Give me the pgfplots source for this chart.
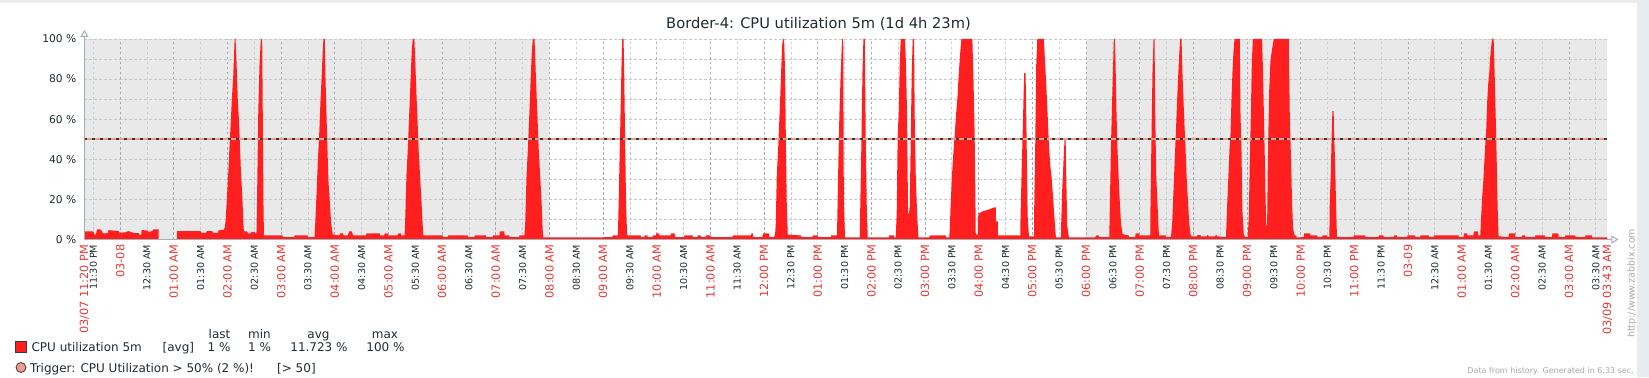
\documentclass[border=0pt]{standalone}
\usepackage{pgfplots}
\pgfplotsset{compat=1.18}
\usepackage{fontspec}
\setmainfont{DejaVu Sans}
\usetikzlibrary{arrows.meta}
\definecolor{zbxred}{HTML}{FF1F1F}
\definecolor{labred}{HTML}{E53935}
\definecolor{zbxtext}{HTML}{1F2C33}
\definecolor{bggray}{HTML}{E9E9E9}
\definecolor{pagegray}{HTML}{E9ECEF}
\definecolor{majgrid}{HTML}{9EABB2}
\definecolor{mingrid}{HTML}{C6CDD1}
\definecolor{hgrid}{HTML}{C3CACE}
\definecolor{axiscol}{HTML}{A3AFB7}
\definecolor{trigsalmon}{HTML}{EC9C8A}
\definecolor{trigdark}{HTML}{3A3A3A}
\definecolor{footgray}{HTML}{A8A8A8}
\newcommand{\R}[1]{{\fontsize{11.3bp}{12bp}\selectfont\color{labred}#1}}
\pgfplotstableread{
m v
0 4
10 4
11 2.5
13 2.5
14 5
18 5
19 4.5
21 3
26 3.2
27 4.7
31 4.5
38 4.2
40 3.2
43 3.5
46 3.6
49 4.2
52 3.8
55 3.2
61 3.2
62 2.2
63.5 2.2
64 4.7
70 4.5
72 3.8
76 4.2
77 5
83 5
83.01 0
103.5 0
103.51 4.2
130 4.2
131 3.3
136 3.3
137 4.2
143 4.2
144 3.3
149 3.3
150 4.5
156 5
157 6
158 10
159.5 22
161 34
162 44
163.5 57
165 71
166.5 82
168 100
169 100
170 90
171.5 70
173 58
174 46
175 34
176.5 22
178 6
178.5 4
182 4
183 3
186 3
187 3.8
190 3.8
191 3
192.4 3
192.9 15
194.4 63
195.8 87
197.3 100
198.8 100
199.5 60
200.3 15
200.8 2
221.5 2
222 1.2
234.5 1.2
235 2
249.5 2
250 1.2
257.3 1.2
258 7
259.5 22
261 39
262.5 52
264 69
265.5 83
266.5 94
267.3 100
268.8 100
269.5 82
270.6 64
271.8 45
272.9 29
274.4 19
275.9 8
277.8 2.5
285 2
286 3
289 3
290 2
294.5 2
296 4
299 4
300.5 2
315 2
315.5 3
330 3
330.5 2
335 2
336 3
339 3
339.5 2
350 2
351 3
354 3
354.5 2
358 2
358.6 8
360.1 32
361.6 45
362.7 57
363.8 69
364.9 82
366 94
367.1 100
369 100
369.6 93
370.5 82
371.6 69
372.7 57
373.8 44
375.3 32
376.8 20
378.3 7
379 2
400.5 2
401 1.2
406 1.2
406.5 2
428.5 2
429 1.2
436 1.2
436.5 2
449 2
449.5 1.2
456.5 1.2
457 2
464 2
464.5 4
469.5 4
470 2
475 2
475.5 1.2
486 1.2
486.5 2
492 2
492.9 8
494.4 32
495.9 45
497 57
498.1 69
499.2 82
500.3 94
501.4 100
503.3 100
503.9 93
504.8 82
505.9 69
507 57
508.1 44
509.6 32
511.1 20
512.4 5
513 1
568 1
590 1.2
591 2
596.5 2
597.2 14
598.3 38
599.5 63
600.6 87
601.4 100
602.9 100
603.6 83
604.6 50
605.7 17
606.8 3
607.5 2
622 2
622.5 1.2
626 1.2
626.5 2
629.5 2
630 1.2
635 1.2
635.5 2
639 2
639.5 3
642.5 3
643 2
655.5 2
656 3
660 3
660.5 1.2
670.5 1.2
671 2
680 2
680.5 1.2
685.5 1.2
686 2
689 2
689.5 1.2
694.5 1.2
695 2
700 2
700.5 1.2
724.5 1.2
725 2
745 2
746 3
747.5 3
748 1.2
758 1.2
759 3
765.5 3
766 1.2
771.3 1.2
772.4 3
773.1 8
774.2 32
775.7 45
776.8 57
777.9 69
779.1 84
780.2 97
781.3 100
782.4 100
783.5 83
784.3 52
785.4 17
786.5 2.5
801 2
801.5 1.2
814 1.2
814.5 2
820 2
820.5 1.2
834.5 1.2
835 2
841.5 2
842 13
843.1 39
844.2 62
845.7 83
847.2 100
848.5 100
849.2 18
850.5 1
867 1
867.6 17
868.9 50
870 83
871.1 100
872.6 100
873.7 50
874.8 17
875.9 1
899.5 1
900 2
905 2
905.5 1
907.2 1
908.3 13
909.4 52
910.5 62
911.7 87
912.8 100
917.6 100
918.7 87
919.9 62
921 13
922.1 13
922.9 17
924 50
925.1 83
926.2 100
927.7 100
928.4 62
929.6 32
931.1 13
932.6 1
944.5 1
946 2
963 2
963.5 1
967 1
967.5 4
968.6 17
970.1 32
971.6 43
973.1 52
974.6 62
976.1 70
977.6 82
979.1 92
980.6 100
992.9 100
994.1 81
995.2 59
995.9 38
996.7 2.5
999 2.5
999.1 11
1000.3 13
1004.1 14
1008 14.5
1011.6 15
1017.2 16
1019.1 16
1019.2 9
1021.3 9
1021.4 2
1046.5 2
1046.8 12
1047.9 32
1049.1 52
1050.2 72
1050.9 83
1052.4 83
1053.5 52
1054.7 12
1056.2 1.6
1061.8 1.6
1062.1 17
1063.2 47
1064.3 87
1065.5 100
1072.9 100
1074.1 89
1075.2 80
1076.3 70
1077.4 59
1078.5 47
1080 37
1081.5 31
1083 22
1084.5 12
1086 2.5
1086.5 1
1092 1
1092.3 9
1093.4 25
1094.9 40
1096 50
1097.2 50
1097.9 31
1099 7
1100.9 1
1130.5 1
1131 2
1134 2
1134.5 1.2
1146 1.2
1146.7 18
1147.8 45
1148.9 64
1150 83
1151.1 100
1152.2 100
1153 88
1154.1 63
1155.2 45
1156.4 32
1157.5 21
1159 9
1160.5 3
1162.3 2.5
1168 2
1168.5 1.2
1175 1.2
1175.5 3
1179 3
1179.5 2
1191.8 2
1192.1 17
1193.2 51
1194.3 83
1195.5 100
1196.6 100
1197.4 62
1198.5 32
1200 17
1201.5 2
1209 2
1209.5 1.2
1215 1.2
1216.3 8
1217.4 20
1218.5 32
1219.7 45
1220.8 57
1221.9 70
1223.1 82
1224.2 92
1225.3 100
1226.8 100
1227.9 82
1229 69
1230.1 57
1231.3 45
1232.4 32
1233.9 20
1235.4 8
1236.9 2.5
1238 1.6
1244 1.6
1244.5 2.2
1248 2.2
1248.5 1.6
1255 1.6
1255.5 2.2
1256.5 2.2
1257 1.6
1264.5 1.6
1265 2.2
1266 2.2
1266.5 1.6
1276.5 1.2
1277.7 16
1279.2 32
1280.4 45
1281.5 52
1282.6 69
1283.7 83
1284.8 93
1286 100
1291.9 100
1292.7 63
1293.8 45
1294.9 14
1296.4 2.5
1297.9 1.2
1300.9 1.2
1302 12
1303.1 38
1304.2 60
1305.4 88
1306.5 100
1316.9 100
1318 82
1319.1 58
1320.3 32
1321.4 7
1322.5 7
1323.2 35
1324.7 73
1326.2 89
1327.7 94
1329.9 100
1346.7 100
1347.8 63
1349.3 38
1350.5 17
1351.6 5
1353.1 2.5
1356.1 1
1363.5 1.2
1364 3
1370.5 3
1371 2
1378.5 2
1379 1.2
1384 1.2
1384.5 2
1389.5 2
1390 1.2
1392.1 1.2
1392.5 17
1393.6 32
1394.7 52
1395.5 64
1396.9 64
1397.3 54
1398.4 40
1399.5 19
1400.6 1.2
1419 1.2
1419.5 2
1432 2
1432.5 1.2
1447 1.2
1447.5 2
1452.5 2
1453 1.2
1464 1.2
1464.5 2
1467.5 2
1468 1.2
1479 1.2
1479.5 2
1488 2
1488.5 1.2
1493.5 1.2
1494 2
1503 2
1503.5 1.2
1508.5 1.2
1509 2
1536.5 2
1537 1.2
1542 1.2
1542.5 3
1546 3
1546.5 2
1553 2
1554 4
1558 4
1558.5 2
1560.8 2
1561.9 12
1563.1 22
1564.2 29
1565.3 38
1566.4 47
1567.5 55
1568.6 69
1569.8 78
1570.9 83
1572.1 92
1573.9 100
1575.8 100
1576.9 83
1578 63
1579.1 42
1580.2 17
1581.3 1.6
1592.5 1.2
1593 3
1599.5 3
1600 1.2
1607 1.2
1607.5 2
1611 2
1611.5 1.2
1622 1.2
1622.5 2
1633 2
1633.5 1.2
1641 1.2
1641.5 3
1648 3
1648.5 1.2
1655.5 1.2
1656 2
1667 2
1667.5 1.2
1678 1.2
1678.5 2
1685.5 2
1686 1
1703 1
}\cpudata

\begin{document}
\begin{tikzpicture}[x=1bp,y=1bp]
\fill[white] (0,0) rectangle (1649,377);
\fill[pagegray] (0,374) rectangle (1649,377);
\fill[pagegray] (1637,0) rectangle (1649,377);
% plot backgrounds: night (gray) and working time 08:00--18:00 (white)
\fill[bggray] (84.4,137.5) rectangle (1607.4,338);
\fill[white] (549.4,137.5) rectangle (1086.0,338);
\begin{axis}[
  at={(84.4bp,137.5bp)}, anchor=south west,
  scale only axis, width=1523bp, height=200.5bp,
  xmin=0, xmax=1703, ymin=0, ymax=100,
  clip=false,
  axis line style={draw=none},
  major tick length=0pt, minor tick length=0pt,
  xtick={40,100,...,1660},
  xticklabels={\R{03-08},\R{01:00 AM},\R{02:00 AM},\R{03:00 AM},\R{04:00 AM},\R{05:00 AM},\R{06:00 AM},\R{07:00 AM},\R{08:00 AM},\R{09:00 AM},\R{10:00 AM},\R{11:00 AM},\R{12:00 PM},\R{01:00 PM},\R{02:00 PM},\R{03:00 PM},\R{04:00 PM},\R{05:00 PM},\R{06:00 PM},\R{07:00 PM},\R{08:00 PM},\R{09:00 PM},\R{10:00 PM},\R{11:00 PM},\R{03-09},\R{01:00 AM},\R{02:00 AM},\R{03:00 AM}},
  xticklabel style={yshift=-5bp, rotate=90, anchor=east, inner sep=0pt, text=zbxtext, font=\fontsize{9.6bp}{10bp}\selectfont},
  extra x ticks={10,70,...,1690},
  extra x tick labels={11:30 PM,12:30 AM,01:30 AM,02:30 AM,03:30 AM,04:30 AM,05:30 AM,06:30 AM,07:30 AM,08:30 AM,09:30 AM,10:30 AM,11:30 AM,12:30 PM,01:30 PM,02:30 PM,03:30 PM,04:30 PM,05:30 PM,06:30 PM,07:30 PM,08:30 PM,09:30 PM,10:30 PM,11:30 PM,12:30 AM,01:30 AM,02:30 AM,03:30 AM},
  extra x tick style={grid=major, major x grid style={mingrid, line width=0.8bp, dash pattern=on 2.5bp off 2.5bp}},
  xmajorgrids,
  major x grid style={majgrid, line width=0.8bp, dash pattern=on 2.5bp off 2.5bp},
  ytick={0,20,...,100},
  yticklabels={0 \%,20 \%,40 \%,60 \%,80 \%,100 \%},
  minor ytick={10,30,50,70,90},
  ymajorgrids, yminorgrids,
  major y grid style={hgrid, line width=0.8bp, dash pattern=on 2.5bp off 2.5bp},
  minor y grid style={hgrid, line width=0.8bp, dash pattern=on 2.5bp off 2.5bp},
  yticklabel style={anchor=east, inner sep=0pt, xshift=-8bp, text=zbxtext, font=\fontsize{10.67bp}{12bp}\selectfont},
]
\addplot[fill=zbxred, draw=none] table[x=m, y=v] {\cpudata} \closedcycle;
\addplot[trigsalmon, line width=1.6bp] coordinates {(0,50) (1703,50)};
\addplot[trigdark, line width=1.6bp, dash pattern=on 2.7bp off 5.3bp] coordinates {(0,50) (1703,50)};
\draw[axiscol, line width=1bp, -{Triangle[open, length=7bp, width=8bp]}] (rel axis cs:0,0) -- ([yshift=9bp]rel axis cs:0,1);
\draw[axiscol, line width=1bp, -{Triangle[open, length=7bp, width=8bp]}] (rel axis cs:0,0) -- ([xshift=11bp]rel axis cs:1,0);
\node[yshift=-5bp, rotate=90, anchor=east, inner sep=0pt, text=labred, font=\fontsize{11.3bp}{12bp}\selectfont] at (rel axis cs:0,0) {03/07 11:20 PM};
\node[yshift=-5bp, rotate=90, anchor=east, inner sep=0pt, text=labred, font=\fontsize{11.3bp}{12bp}\selectfont] at (rel axis cs:1,0) {03/09 03:43 AM};
\end{axis}
% title
\node[anchor=base, text=zbxtext, font=\fontsize{14.67bp}{16bp}\selectfont, inner sep=0pt] at (818.5,348.5) {Border-4: CPU utilization 5m (1d 4h 23m)};
% legend
\begin{scope}[every node/.style={inner sep=0pt, text=zbxtext, font=\fontsize{12bp}{14bp}\selectfont}]
\node[anchor=base] at (219.5,39) {last};
\node[anchor=base] at (259.5,39) {min};
\node[anchor=base] at (318.5,39) {avg};
\node[anchor=base] at (385,39) {max};
\fill[zbxred, draw=trigdark, line width=0.8bp] (15,25) rectangle (26,36);
\node[anchor=base west] at (31.4,25.5) {CPU utilization 5m};
\node[anchor=base west] at (162.5,25.5) {[avg]};
\node[anchor=base] at (219,25.5) {1 \%};
\node[anchor=base] at (259.5,25.5) {1 \%};
\node[anchor=base] at (319,25.5) {11.723 \%};
\node[anchor=base] at (385.5,25.5) {100 \%};
\fill[trigsalmon, draw=trigdark, line width=0.8bp] (21,9.5) circle (5);
\node[anchor=base west] at (30,5) {Trigger: CPU Utilization > 50\% (2 \%)!};
\node[anchor=base west] at (277,5) {[> 50]};
\end{scope}
\node[anchor=base east, inner sep=0pt, text=footgray, font=\fontsize{8bp}{9bp}\selectfont] at (1634,3.5) {Data from history. Generated in 6.33 sec.};
\node[rotate=90, anchor=west, inner sep=0pt, text=footgray, font=\fontsize{9.5bp}{10bp}\selectfont] at (1632,39) {http://www.zabbix.com};
\pgfresetboundingbox
\path (0,0) rectangle (1649,377);
\end{tikzpicture}
\end{document}
